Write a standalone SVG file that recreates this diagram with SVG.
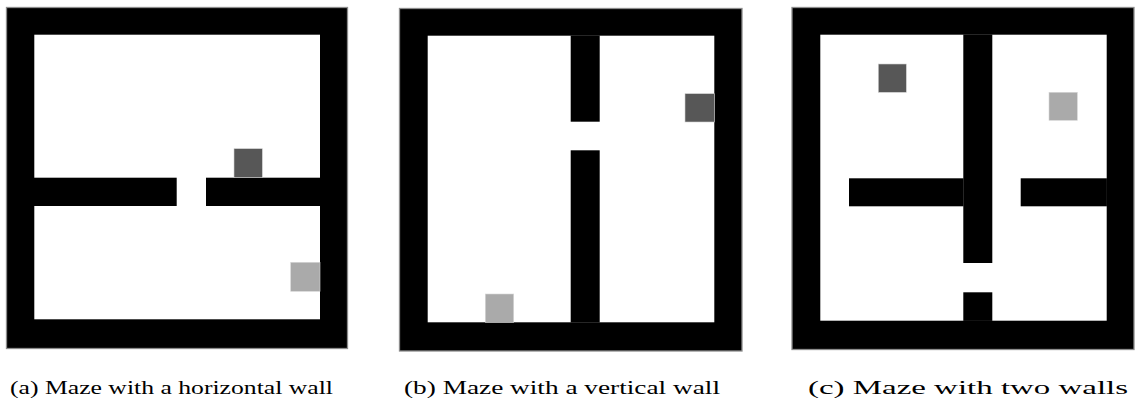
<svg xmlns="http://www.w3.org/2000/svg" width="1136" height="404" viewBox="0 0 1136 404">
<style>
.frame{fill:#000;stroke:#8c8c8c;stroke-width:1.3}
.room{fill:#fff}
.wall{fill:#000}
.dark{fill:#575757;stroke:#cfcfcf;stroke-width:0.6}
.light{fill:#aaaaaa;stroke:#d6d6d6;stroke-width:0.6}
.cap{font-family:"Liberation Serif","DejaVu Serif",serif;font-size:19.5px;fill:#000}
</style>
<rect width="1136" height="404" fill="#fff"/>
<g id="maze-a">
<rect class="frame" x="6.5" y="7.5" width="341" height="341"/>
<rect class="room" x="34.3" y="34.7" width="285.7" height="284.6"/>
<rect class="wall" x="34" y="177.7" width="142.7" height="28.3"/>
<rect class="wall" x="206" y="177.7" width="114.5" height="28.3"/>
<rect class="dark" x="234" y="148.7" width="28.3" height="29"/>
<rect class="light" x="290.7" y="262.3" width="29.3" height="29"/>
</g>
<g id="maze-b">
<rect class="frame" x="399.5" y="8.5" width="342.5" height="342.5"/>
<rect class="room" x="427.7" y="35.7" width="286.6" height="286.6"/>
<rect class="wall" x="570.7" y="35.5" width="29" height="86.2"/>
<rect class="wall" x="570.7" y="150.3" width="29" height="172.2"/>
<rect class="dark" x="685" y="93.7" width="29.3" height="28.3"/>
<rect class="light" x="485.3" y="294" width="28.4" height="28.3"/>
</g>
<g id="maze-c">
<rect class="frame" x="792" y="7.5" width="342" height="342"/>
<rect class="room" x="820.3" y="34.7" width="286.4" height="286"/>
<rect class="wall" x="963.3" y="34.5" width="29" height="228.5"/>
<rect class="wall" x="963.3" y="292.3" width="29" height="28.6"/>
<rect class="wall" x="849" y="178.3" width="114.5" height="28"/>
<rect class="wall" x="1020.7" y="178.3" width="86.2" height="28"/>
<rect class="dark" x="878.3" y="64" width="28" height="28.3"/>
<rect class="light" x="1049" y="92.3" width="28.3" height="28"/>
</g>
<g id="captions">
<text class="cap" x="10" y="394" textLength="323" lengthAdjust="spacingAndGlyphs">(a) Maze with a horizontal wall</text>
<text class="cap" x="404" y="394" textLength="316" lengthAdjust="spacingAndGlyphs">(b) Maze with a vertical wall</text>
<text class="cap" x="808" y="394" textLength="320" lengthAdjust="spacingAndGlyphs">(c) Maze with two walls</text>
</g>
</svg>
